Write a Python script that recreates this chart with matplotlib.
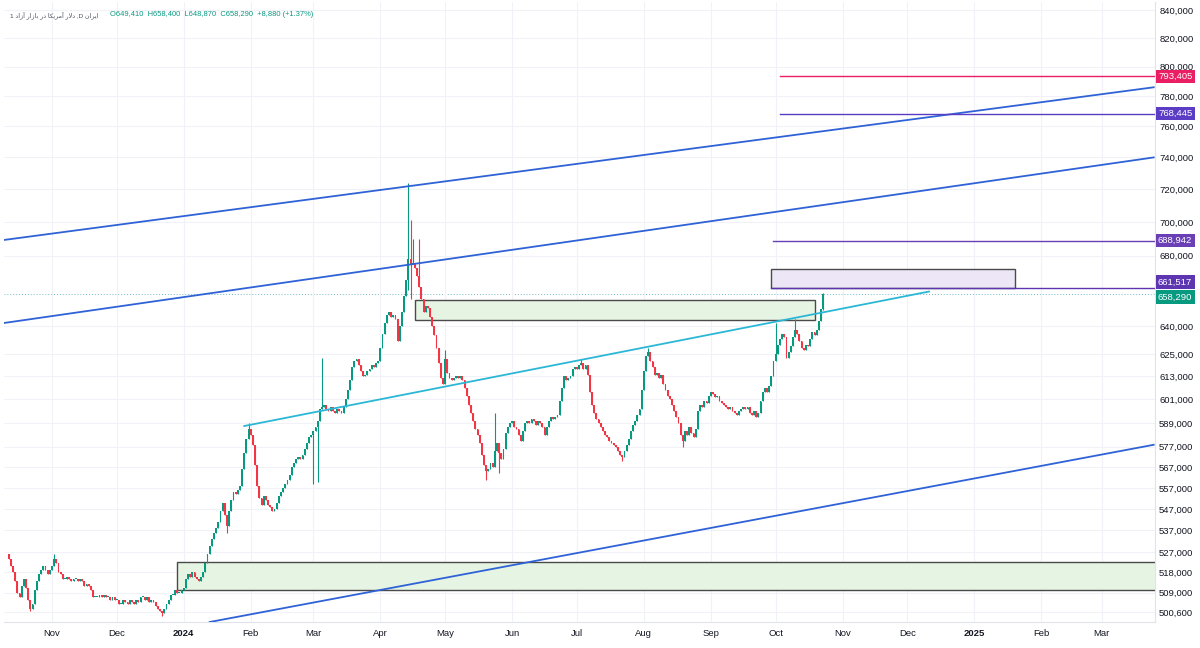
import matplotlib
matplotlib.use('Agg')
import matplotlib.pyplot as plt
import matplotlib.dates as mdates
from matplotlib.patches import Rectangle
from matplotlib.ticker import FixedLocator, NullLocator, FuncFormatter
from matplotlib.transforms import offset_copy
import numpy as np
import pandas as pd

plt.rcParams['font.family'] = ['Liberation Sans', 'DejaVu Sans']

# daily closes, in thousands, starting 2023-10-12
start = '2023-10-12'
first_open = 526
closes = [
    524, 521, 518, 514, 509, 507, 512, 515, 511, 506,
    502, 504, 510, 514, 517, 519, 521, 519, 517, 519,
    521, 524, 522, 518, 517, 515, 515, 516, 515, 514,
    515, 515, 514, 515, 514, 512, 513, 512, 510, 507,
    507, 507, 508, 507, 508, 507, 507, 506, 507, 506,
    506, 504, 504, 506, 505, 504, 506, 505, 504, 506,
    505, 507, 507, 506, 507, 505, 506, 505, 503, 502,
    501, 500, 502, 504, 506, 508, 508, 510, 509, 509,
    510, 511, 515, 517, 516, 518, 516, 515, 514, 516,
    518, 522, 526, 530, 533, 536, 538, 541, 546, 550,
    544, 539, 546, 551, 555, 554, 556, 558, 566, 574,
    581, 586, 583, 578, 568, 558, 552, 549, 553, 551,
    549, 548, 546, 547, 550, 553, 555, 557, 559, 561,
    563, 567, 569, 571, 572, 571, 573, 576, 579, 582,
    583, 585, 587, 590, 596, 597, 598, 596, 595, 597,
    595, 594, 596, 595, 594, 597, 601, 606, 611, 618,
    621, 622, 619, 616, 613, 614, 616, 617, 619, 618,
    620, 621, 628, 636, 642, 646, 648, 645, 646, 644,
    632, 640, 648, 657, 666, 678, 675, 676, 673, 668,
    662, 655, 648, 651, 650, 645, 640, 635, 628, 620,
    612, 609, 622, 615, 612, 611, 612, 613, 612, 613,
    611, 607, 603, 598, 594, 590, 586, 583, 579, 573,
    568, 565, 566, 569, 567, 575, 579, 574, 571, 576,
    584, 587, 589, 590, 587, 586, 583, 580, 585, 589,
    590, 589, 591, 590, 588, 590, 589, 587, 583, 587,
    590, 592, 591, 592, 593, 600, 607, 613, 611, 612,
    613, 617, 618, 617, 619, 620, 617, 619, 614, 605,
    598, 594, 591, 589, 587, 585, 583, 582, 580, 579,
    578, 577, 575, 573, 572, 575, 578, 581, 585, 588,
    590, 593, 596, 606, 616, 624, 626, 621, 618, 614,
    615, 612, 614, 609, 606, 603, 601, 598, 595, 592,
    589, 583, 580, 585, 583, 587, 584, 582, 586, 595,
    598, 597, 600, 599, 603, 605, 604, 602, 603, 600,
    599, 598, 597, 596, 597, 595, 594, 593, 595, 596,
    597, 596, 597, 594, 593, 595, 592, 594, 600, 605,
    607, 605, 608, 613, 621, 625, 630, 633, 636, 634,
    623, 626, 629, 634, 638, 636, 632, 628, 627, 630,
    629, 633, 637, 635, 638, 643, 649.41, 658.29,
]
# visible long wicks (candle index: price in thousands)
wick_highs = {21: 526, 111: 589, 145: 623, 185: 724, 186: 701, 187: 690, 190: 690,
              202: 627, 225: 594, 265: 622, 296: 628, 355: 642, 364: 644, 377: 658.4}
wick_lows = {10: 501, 71: 499, 101: 536, 141: 559, 143: 560, 185: 660, 186: 655,
             221: 561, 227: 564, 284: 570, 312: 577, 377: 648.87}

# drawings
channel_dates = [['2023-10-08', '2025-03-25'], ['2023-10-08', '2025-03-25'], ['2024-01-13', '2025-03-25']]
channel_prices = [[689000, 786000], [641500, 740000], [496300, 578000]]
trend_dates = ['2024-01-29', '2024-12-11']
trend_prices = [587400, 659400]
level_values = [793405, 768445, 688942, 661517]
level_starts = ['2024-10-03', '2024-10-03', '2024-09-30', '2024-09-29']
level_colors = ['#e91e63', '#5b3cc4', '#6a3fb5', '#5e35b1']
last_price = 658290
green_boxes = [('2023-12-29', None, 510200, 522800), ('2024-04-17', '2024-10-19', 643700, 654900)]
purple_box = ('2024-09-29', '2025-01-20', 661517, 672100)

yticks = [840000, 820000, 800000, 780000, 760000, 740000, 720000, 700000, 680000,
          640000, 625000, 613000, 601000, 589000, 577000, 567000, 557000, 547000,
          537000, 527000, 518000, 509000, 500600]

c = np.array(closes) * 1000
o = np.array([first_open] + closes[:-1]) * 1000
hi = np.maximum(o, c)
lo = np.minimum(o, c)
for k, v in wick_highs.items():
    hi[k] = v * 1000
for k, v in wick_lows.items():
    lo[k] = v * 1000
dates = pd.date_range(start, periods=len(closes), freq='D')
x = mdates.date2num(dates)

fig = plt.figure(figsize=(12, 6.48), dpi=100)
ax = fig.add_axes([4/1200, 26/648, 1151/1200, 620/648])
ax.set_yscale('log')

base = pd.Timestamp('2023-11-01')
x0 = mdates.date2num(base + pd.Timedelta(days=-22.2))
x1 = mdates.date2num(base + pd.Timedelta(days=510.6))
ax.set_xlim(x0, x1)
ax.set_ylim(496310, 845800)

up = c >= o
col = np.where(up, '#089981', '#f23645')
ax.vlines(x, lo, hi, colors=col, lw=0.8, zorder=3)
ax.bar(x, np.maximum(np.abs(c - o), 400), bottom=np.minimum(o, c),
       width=0.85, color=col, lw=0, zorder=3)

# boxes
for d0, d1, p0, p1 in green_boxes:
    a = mdates.date2num(pd.Timestamp(d0))
    b = x1 + 5 if d1 is None else mdates.date2num(pd.Timestamp(d1))
    ax.add_patch(Rectangle((a, p0), b - a, p1 - p0, fc='#e6f4e3', ec='#4a4a4a', lw=1, zorder=2))
a = mdates.date2num(pd.Timestamp(purple_box[0]))
b = mdates.date2num(pd.Timestamp(purple_box[1]))
ax.add_patch(Rectangle((a, purple_box[2]), b - a, purple_box[3] - purple_box[2],
                       fc='#ece6f7', ec='#4a4a4a', lw=1, zorder=2))

# channel and trend lines
for ds, ps in zip(channel_dates, channel_prices):
    ax.plot(mdates.date2num(pd.to_datetime(ds)), ps, color='#2f62d6', lw=1.3, zorder=4)
ax.plot(mdates.date2num(pd.to_datetime(trend_dates)), trend_prices, color='#2bb7d6', lw=1.3, zorder=4)

# horizontal levels with price tags on the scale
ytrans = ax.get_yaxis_transform()
tag_shift = [0, 0, 0, 4]
for val, d0, colr, sh in zip(level_values, level_starts, level_colors, tag_shift):
    ax.plot([mdates.date2num(pd.Timestamp(d0)), x1], [val, val], color=colr, lw=1, zorder=4)
    ax.text(1.0026, val, f'{val:,}', transform=offset_copy(ytrans, fig=fig, y=sh, units='points'),
            color='white', fontsize=6.8, va='center', ha='left', clip_on=False,
            bbox=dict(boxstyle='square,pad=0.25', fc=colr, ec='none'))
ax.axhline(last_price, color='#6fb9c9', lw=0.7, ls=(0, (1, 2)), zorder=1)
ax.text(1.0026, last_price, f'{last_price:,}', transform=offset_copy(ytrans, fig=fig, y=-2.5, units='points'),
        color='white', fontsize=6.8, va='center', ha='left', clip_on=False,
        bbox=dict(boxstyle='square,pad=0.25', fc='#089981', ec='none'))

# axes styling
ax.yaxis.tick_right()
ax.yaxis.set_major_locator(FixedLocator(yticks))
ax.yaxis.set_minor_locator(NullLocator())
ax.yaxis.set_major_formatter(FuncFormatter(lambda v, p: f'{v:,.0f}'))
ax.tick_params(axis='y', length=0, pad=3, labelsize=6.8, labelcolor='#131722')

months = pd.date_range('2023-11-01', '2025-03-01', freq='MS')
ax.set_xticks(mdates.date2num(months))
ax.set_xticklabels([str(m.year) if m.month == 1 else m.strftime('%b') for m in months])
ax.tick_params(axis='x', length=0, pad=5, labelsize=6.8, labelcolor='#131722')
for m, t in zip(months, ax.get_xticklabels()):
    if m.month == 1:
        t.set_fontweight('bold')

ax.grid(True, color='#f0f2f7', lw=0.8, zorder=0)
for s in ['top', 'left']:
    ax.spines[s].set_visible(False)
for s in ['right', 'bottom']:
    ax.spines[s].set_color('#e0e3eb')

# header
title_fa = ('1 ' + '\uFEA9\uFE8D\uFEAF\uFE81' + ' ' + '\uFEAD\uFE8D\uFEAF\uFE8E\uFE91' + ' '
            + '\uFEAD\uFEA9' + ' ' + '\uFE8E\uFEDC\uFEF3\uFEAE\uFEE3\uFE81' + ' '
            + '\uFEAD\uFEFB\uFEA9' + ' ,D ' + '\uFEE5\uFE8D\uFEAE\uFEF3\uFE8D')
fig.text(10/1200, 1 - 15/648, title_fa, fontsize=4.6, color='#4a4f5c', va='center', ha='left')
fig.text(110/1200, 1 - 15/648, 'O649,410  H658,400  L648,870  C658,290  +8,880 (+1.37%)',
         fontsize=5.4, color='#089981', va='center', ha='left')

fig.savefig('out.png', dpi=100)
